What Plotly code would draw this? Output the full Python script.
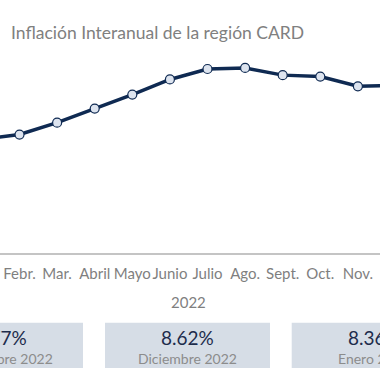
import plotly.graph_objects as go

months = ["Ene.", "Febr.", "Mar.", "Abril", "Mayo", "Junio", "Julio",
          "Ago.", "Sept.", "Oct.", "Nov.", "Dic."]
inflation = [7.30, 7.43, 7.76, 8.15, 8.54, 8.96, 9.25, 9.28, 9.08, 9.04, 8.77, 8.79]
year_label = "2022"
title_text = "Inflación Interanual de la región CARD"
card_values = ["8.77%", "8.62%", "8.36%"]
card_labels = ["Noviembre 2022", "Diciembre 2022", "Enero 2023"]

W, H = 380, 380
AXIS_PY = 253  # pixel row of x axis line

def py(p):
    return (AXIS_PY - p) / AXIS_PY

def px(p):
    return p / W

NAVY = "#0f2a52"
FONT = "Lato"

x_idx = list(range(len(months)))

fig = go.Figure()
fig.add_trace(go.Scatter(
    x=x_idx, y=inflation, mode="lines+markers",
    line=dict(color=NAVY, width=3.5),
    marker=dict(size=9, color="#dde4ef", line=dict(color=NAVY, width=1.2)),
    hoverinfo="skip", showlegend=False,
))

fig.update_layout(
    width=W, height=H,
    margin=dict(l=0, r=0, t=0, b=H - AXIS_PY, pad=0),
    paper_bgcolor="white", plot_bgcolor="white",
    font=dict(family=FONT, color="#7f7f7f"),
    xaxis=dict(
        range=[0.481, 10.588], tickmode="array", tickvals=x_idx, ticktext=months,
        tickangle=0,
        showgrid=False, zeroline=False, showline=True, linecolor="#c4c4c4", linewidth=1.5,
        ticks="outside", ticklen=6, tickcolor="rgba(0,0,0,0)",
        tickfont=dict(family=FONT, size=15, color="#7f7f7f"),
    ),
    yaxis=dict(range=[4.139, 11.167], visible=False, showgrid=False, zeroline=False),
)

annotations = [
    dict(text=title_text, xref="paper", yref="paper", x=px(9), y=py(32),
         xanchor="left", yanchor="middle", showarrow=False,
         font=dict(family=FONT, size=17.5, color="#808080")),
    dict(text=year_label, xref="paper", yref="paper", x=px(188), y=py(301.5),
         xanchor="center", yanchor="middle", showarrow=False,
         font=dict(family=FONT, size=15, color="#7f7f7f")),
]

shapes = []
box_lefts = [-82, 105, 291.7]
box_w = 165
for left, val, lab in zip(box_lefts, card_values, card_labels):
    shapes.append(dict(type="rect", xref="paper", yref="paper",
                       x0=px(left), x1=px(left + box_w), y0=py(368), y1=py(322.7),
                       fillcolor="#d6dde6", line=dict(width=0), layer="below"))
    cx = px(left + box_w / 2)
    annotations.append(dict(text=val, xref="paper", yref="paper", x=cx, y=py(337),
                            xanchor="center", yanchor="middle", showarrow=False,
                            font=dict(family=FONT, size=19, color="#1d2c4c")))
    annotations.append(dict(text=lab, xref="paper", yref="paper", x=cx, y=py(358),
                            xanchor="center", yanchor="middle", showarrow=False,
                            font=dict(family=FONT, size=14, color="#8c8c8c")))

fig.update_layout(annotations=annotations, shapes=shapes)

fig.write_html("out.html", config={"displayModeBar": False},
               post_script="document.body.style.margin='0';document.body.style.overflow='hidden';")
